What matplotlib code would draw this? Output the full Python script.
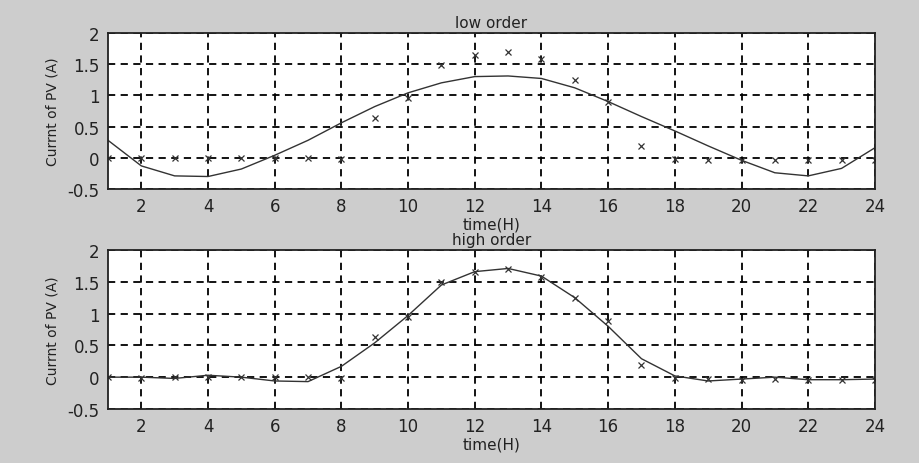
import numpy as np
import matplotlib
matplotlib.use("Agg")
import matplotlib.pyplot as plt

hours = list(range(1, 25))

# measured PV current (crosses), same in both panels
measured = [0.0, -0.01, 0.0, 0.0, 0.0, 0.0, 0.0, -0.02, 0.63, 0.95, 1.49, 1.65,
            1.70, 1.58, 1.25, 0.89, 0.19, -0.02, -0.03, -0.04, -0.03, -0.04, -0.04, -0.04]

# low order fit
low_fit = [0.28, -0.13, -0.29, -0.30, -0.18, 0.04, 0.28, 0.56, 0.82, 1.04, 1.20, 1.30,
           1.31, 1.27, 1.12, 0.90, 0.66, 0.43, 0.19, -0.04, -0.24, -0.29, -0.17, 0.16]

# high order fit
high_fit = [0.0, 0.0, -0.02, 0.03, 0.0, -0.06, -0.07, 0.17, 0.54, 0.97, 1.45, 1.66,
            1.71, 1.59, 1.25, 0.80, 0.29, 0.02, -0.06, -0.03, 0.0, -0.04, -0.04, -0.03]

xticks = [2, 4, 6, 8, 10, 12, 14, 16, 18, 20, 22, 24]
yticks = [-0.5, 0, 0.5, 1, 1.5, 2]
ylabels = ['-0.5', '0', '0.5', '1', '1.5', '2']

bg = '#cdcdcd'
fig = plt.figure(figsize=(9.19, 4.64), dpi=100, facecolor=bg)

panels = [
    ("low order", low_fit, [0.1175, 0.5905, 0.8345, 0.3365]),
    ("high order", high_fit, [0.1175, 0.1165, 0.8345, 0.3425]),
]

for title, fit, rect in panels:
    ax = fig.add_axes(rect)
    ax.set_facecolor('white')
    ax.plot(hours, fit, color='#333333', lw=1.0)
    ax.plot(hours, measured, 'x', color='#333333', ms=5, mew=0.9, linestyle='none')
    ax.set_xlim(1, 24)
    ax.set_ylim(-0.5, 2)
    ax.set_xticks(xticks)
    ax.set_yticks(yticks)
    ax.set_yticklabels(ylabels)
    ax.grid(True, color='black', linestyle=(0, (4, 3)), lw=1.3)
    ax.tick_params(length=0, labelsize=12, colors='#222222', pad=6)
    for s in ax.spines.values():
        s.set_linewidth(1.3)
        s.set_color('#222222')
    ax.set_title(title, fontsize=11, pad=4, color='#222222')
    ax.set_xlabel('time(H)', fontsize=11, labelpad=1, color='#222222')
    ax.set_ylabel('Currnt of PV (A)', fontsize=10, labelpad=6, color='#222222')

fig.savefig('out.png', dpi=100, facecolor=bg)
